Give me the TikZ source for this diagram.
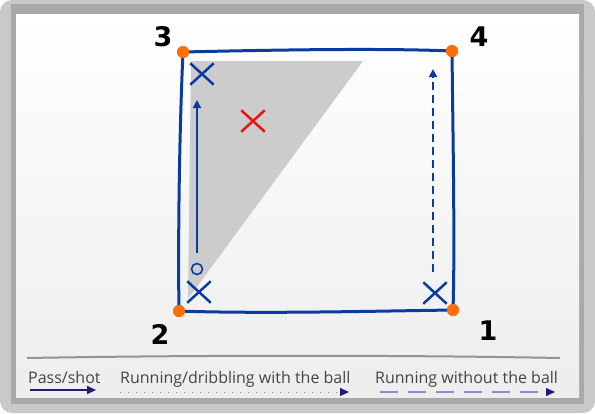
\documentclass[tikz,border=0pt]{standalone}
\usepackage{fontspec}
\usetikzlibrary{arrows.meta,shapes.misc}
\newfontfamily\legendfont{Open Sans}
\newfontfamily\cornerfont{DejaVu Sans}
\definecolor{fieldblue}{HTML}{0A3CA0}
\definecolor{coneorange}{HTML}{FF6E0A}
\definecolor{oppred}{HTML}{EE1111}
\definecolor{legendnavy}{HTML}{1E1E78}
\definecolor{legendlav}{HTML}{8C8CD2}
\definecolor{legendtext}{HTML}{444444}
\definecolor{frameouter}{HTML}{C9C9C9}
\definecolor{frameinner}{HTML}{A9A9A9}
\definecolor{zonegray}{HTML}{CCCCCC}
\begin{document}
\begin{tikzpicture}[x=1pt,y=-1pt,
  cone/.style={circle,fill=coneorange,inner sep=0pt,minimum size=12pt},
  cornerlabel/.style={font=\cornerfont\bfseries\fontsize{27}{27}\selectfont},
  player/.style={cross out,draw=fieldblue,line width=2.5pt,minimum width=21pt,minimum height=19pt,inner sep=0pt},
  opponent/.style={player,draw=oppred},
  ball/.style={circle,draw=fieldblue,line width=1.6pt,minimum size=11pt,inner sep=0pt},
  side/.style={draw=fieldblue,line width=3pt,line cap=round},
  runball/.style={fieldblue,line width=1.8pt,-{Triangle[length=8pt,width=8pt]}},
  runfree/.style={runball,dash pattern=on 8pt off 5pt},
  legendtxt/.style={anchor=base west,font=\legendfont\fontsize{16}{16}\selectfont,text=legendtext,inner sep=0pt}]
  \useasboundingbox (0,0) rectangle (595,413);
  \fill[frameouter,rounded corners=12pt] (0,0) rectangle (595,413);
  \fill[frameinner] (11,4) rectangle (584,404);
  \shade[top color=white,bottom color=black!7] (16,14) rectangle (579,397);
  \fill[zonegray] (191,61) -- (363,61) -- (188,299) -- cycle;
  \node[cone] (c1) at (453,310) {};
  \node[cone] (c2) at (179,311) {};
  \node[cone] (c3) at (183,52) {};
  \node[cone] (c4) at (452,51) {};
  \draw[side] (c3.center) .. controls (270,50) and (380,48) .. (c4.center);
  \draw[side] (c2.center) .. controls (260,314) and (380,311) .. (c1.center);
  \draw[side] (c3.center) .. controls (179,140) and (178,250) .. (c2.center);
  \draw[side] (c4.center) .. controls (453,140) and (455,250) .. (c1.center);
  \node[cone] at (c1) {};
  \node[cone] at (c2) {};
  \node[cone] at (c3) {};
  \node[cone] at (c4) {};
  \node[cornerlabel] (l3) at (163,37) {3};
  \node[cornerlabel] (l4) at (479,37) {4};
  \node[cornerlabel] (l2) at (160,334) {2};
  \node[cornerlabel] (l1) at (488,331) {1};
  \node[player] (p2) at (199,292) {};
  \node[player] (p3) at (202,74) {};
  \node[player] (p1) at (435,293) {};
  \node[opponent] (opp) at (253,121) {};
  \node[ball] (b) at (197,269) {};
  \coordinate (runstart) at (197,253);
  \coordinate (runend) at (197,100);
  \coordinate (freestart) at (433,272);
  \coordinate (freeend) at (433,69);
  \draw[runball] (runstart) -- (runend);
  \draw[runfree] (freestart) -- (freeend);
  \coordinate (sepl) at (27,358);
  \coordinate (sepr) at (560,358);
  \draw[black!42,line width=2pt] (sepl) .. controls (200,355) and (400,355) .. (sepr);
  \node[legendtxt] (tpass) at (28,383) {Pass/shot};
  \node[legendtxt] (tdrib) at (120,383) {Running/dribbling with the ball};
  \node[legendtxt] (tfree) at (375,383) {Running without the ball};
  \coordinate (passa) at (30,390);
  \coordinate (passb) at (96,390);
  \coordinate (dribba) at (120,392);
  \coordinate (dribbb) at (349,392);
  \coordinate (freea) at (380,392);
  \coordinate (freeb) at (555,392);
  \draw[legendnavy,line width=2pt,-{Triangle[length=9pt,width=8pt]}] (passa) -- (passb);
  \draw[legendnavy!55,line width=1pt,dash pattern=on 1pt off 7pt,-{Triangle[length=9pt,width=8pt,color=legendnavy]}] (dribba) -- (dribbb);
  \draw[legendlav,line width=1.3pt,dash pattern=on 18pt off 10pt,-{Triangle[length=9pt,width=8pt,color=legendnavy]}] (freea) -- (freeb);
\end{tikzpicture}
\end{document}
